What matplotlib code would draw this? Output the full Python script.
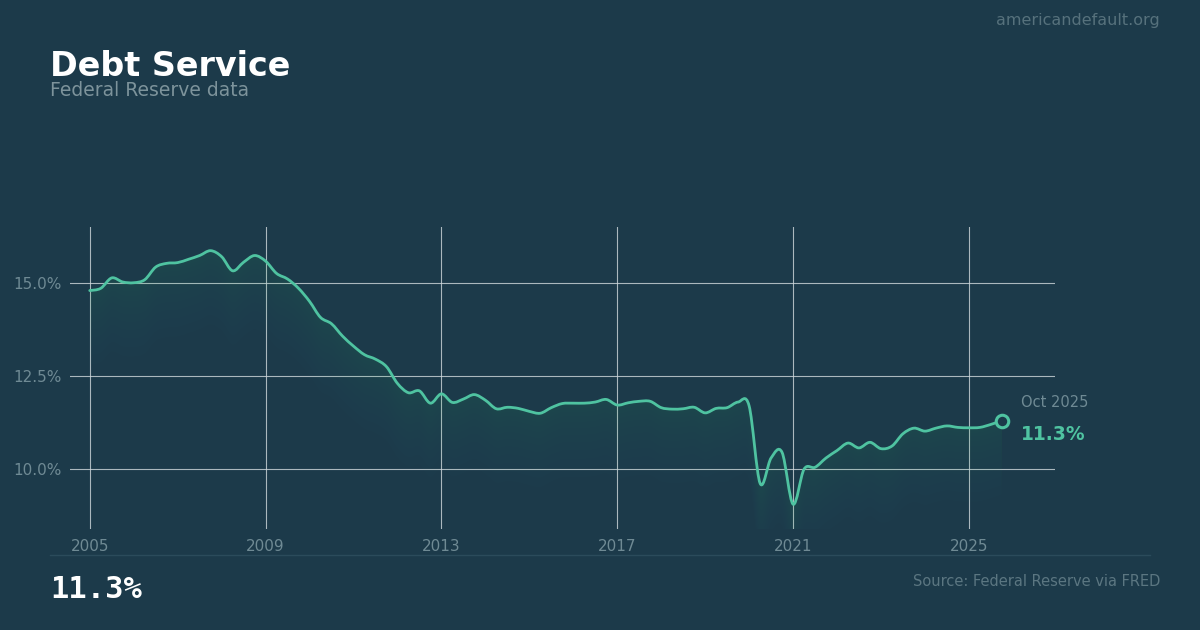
import numpy as np
import matplotlib
matplotlib.use("Agg")
import matplotlib.pyplot as plt
from matplotlib.path import Path
from matplotlib.patches import PathPatch

# quarterly debt service ratio (% of disposable income), 2005 Q1 .. Oct 2025
start_year = 2005.0
values = [
    14.79, 14.85, 15.13, 15.02,
    15.00, 15.08, 15.42, 15.52,
    15.54, 15.63, 15.73, 15.86,
    15.70, 15.32, 15.55, 15.73,
    15.58, 15.25, 15.10, 14.85,
    14.50, 14.07, 13.90, 13.57,
    13.30, 13.07, 12.95, 12.75,
    12.30, 12.05, 12.10, 11.77,
    12.02, 11.79, 11.88, 12.00,
    11.85, 11.62, 11.66, 11.63,
    11.55, 11.50, 11.65, 11.76,
    11.77, 11.77, 11.80, 11.87,
    11.72, 11.78, 11.82, 11.82,
    11.65, 11.61, 11.62, 11.66,
    11.51, 11.63, 11.65, 11.80,
    11.70, 9.62, 10.30, 10.45,
    9.06, 10.00, 10.05, 10.30,
    10.50, 10.70, 10.57, 10.72,
    10.55, 10.62, 10.95, 11.10,
    11.02, 11.10, 11.16, 11.12,
    11.11, 11.12, 11.20, 11.30,
]
years = start_year + 0.25 * np.arange(len(values))
y = np.array(values)

x_ticks = [2005, 2009, 2013, 2017, 2021, 2025]
y_ticks = [10.0, 12.5, 15.0]
last_label = "Oct 2025"
last_value = "11.3%"

BG = "#1c3a4a"
TEAL = "#4fc3a1"
MUTED = "#6f8a94"

fig = plt.figure(figsize=(12, 6.3), dpi=100, facecolor=BG)
ax = fig.add_axes([0.0583, 0.160, 0.8209, 0.480])
ax.set_facecolor(BG)

x0, x1 = 2004.55, 2026.96
y0, y1 = 8.39, 16.5
ax.set_xlim(x0, x1)
ax.set_ylim(y0, y1)


def smooth_path(xs, ys):
    # catmull-rom segments as cubic bezier curves
    pts = np.column_stack([xs, ys])
    n = len(pts)
    verts = [pts[0]]
    codes = [Path.MOVETO]
    for i in range(n - 1):
        p0 = pts[max(i - 1, 0)]
        p1 = pts[i]
        p2 = pts[i + 1]
        p3 = pts[min(i + 2, n - 1)]
        c1 = p1 + (p2 - p0) / 6
        c2 = p2 - (p3 - p1) / 6
        verts += [c1, c2, p2]
        codes += [Path.CURVE4] * 3
    return np.array(verts), codes


verts, codes = smooth_path(years, y)
line_path = Path(verts, codes)

# area under the line, used to clip the soft fill
under = np.vstack([verts, [[years[-1], y0], [years[0], y0], verts[0]]])
under_codes = codes + [Path.LINETO, Path.LINETO, Path.CLOSEPOLY]
clip = PathPatch(Path(under, under_codes), facecolor="none", edgecolor="none")
ax.add_patch(clip)

# soft fill that fades out below the line: stacked bands of growing depth
back = verts[::-1]
band_codes = codes + [Path.LINETO] + [Path.CURVE4] * (len(back) - 1) + [Path.CLOSEPOLY]
for depth in 0.08 + 1.9 * np.linspace(0, 1, 12) ** 1.5:
    shifted = back - np.array([0, depth])
    bverts = np.vstack([verts, shifted, verts[:1]])
    band = PathPatch(Path(bverts, band_codes), facecolor=TEAL,
                     edgecolor="none", alpha=0.013, zorder=1)
    ax.add_patch(band)
    band.set_clip_path(clip)

ax.add_patch(PathPatch(line_path, facecolor="none", edgecolor=TEAL,
                       lw=2.0, capstyle="round", joinstyle="round", zorder=3))
ax.plot(years[-1], y[-1], "o", ms=9, mfc=BG, mec=TEAL, mew=2.2, zorder=4)

ax.text(years[-1] + 0.43, y[-1] + 0.5, last_label, color=MUTED,
        fontsize=10.5, ha="left", va="center")
ax.text(years[-1] + 0.43, y[-1] - 0.38, last_value, color=TEAL,
        fontsize=13.5, fontweight="bold", ha="left", va="center")

ax.set_xticks(x_ticks)
ax.set_xticklabels([str(t) for t in x_ticks])
ax.set_yticks(y_ticks)
ax.set_yticklabels([f"{t:.1f}%" for t in y_ticks])
ax.tick_params(length=0, colors=MUTED, labelsize=11)
ax.tick_params(axis="y", pad=6)
ax.tick_params(axis="x", pad=7)
ax.grid(True, color="#d0d8dc", alpha=0.8, lw=0.8)
ax.set_axisbelow(True)
for s in ax.spines.values():
    s.set_visible(False)

# header / footer
fig.text(50 / 1200, 1 - 66 / 630, "Debt Service", color="white",
         fontsize=24, fontweight="bold", va="center", ha="left")
fig.text(50 / 1200, 1 - 91 / 630, "Federal Reserve data", color="#7d939b",
         fontsize=13.5, va="center", ha="left")
fig.text(1160 / 1200, 1 - 20 / 630, "americandefault.org", color="#56717c",
         fontsize=11.5, va="center", ha="right")
fig.add_artist(plt.Line2D([50 / 1200, 1150 / 1200], [1 - 555 / 630] * 2,
                          color="#2b4b5b", lw=1))
fig.text(50 / 1200, 1 - 590 / 630, last_value, color="white",
         fontsize=22, fontweight="bold", family="DejaVu Sans Mono",
         va="center", ha="left")
fig.text(1160 / 1200, 1 - 581 / 630, "Source: Federal Reserve via FRED",
         color="#5b7681", fontsize=10.5, va="center", ha="right")

fig.savefig("out.png", dpi=100, facecolor=BG)
